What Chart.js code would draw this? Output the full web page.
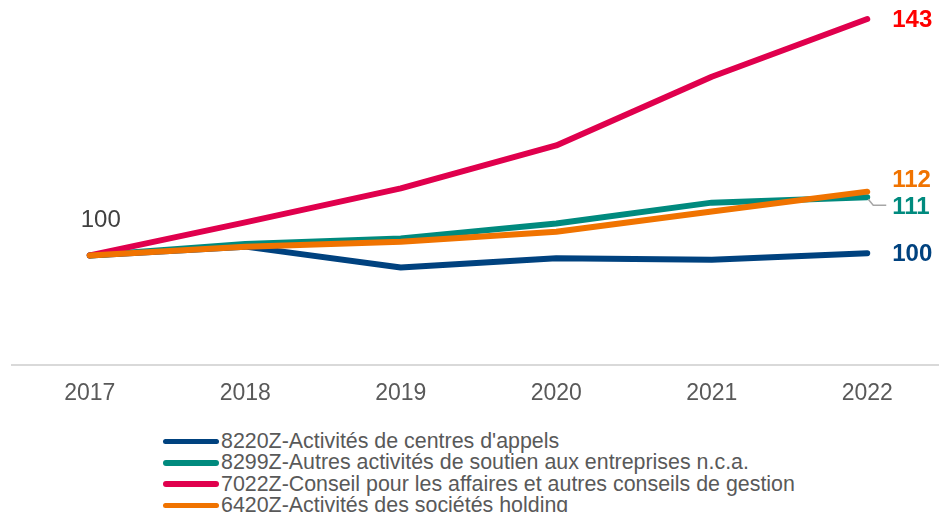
<!DOCTYPE html>
<html>
<head>
<meta charset="utf-8">
<script src="https://cdn.jsdelivr.net/npm/chart.js@4/dist/chart.umd.min.js"></script>
<style>
  html, body { margin: 0; padding: 0; background: #fff; overflow: hidden; width: 939px; height: 512px; }
  #wrap { position: relative; width: 945px; height: 422px; }
  #legend { position: absolute; left: 163px; top: 431px; font-family: 'Liberation Sans', Arial, sans-serif; font-size: 21.4px; color: #595959; }
  #legend div { height: 21.3px; line-height: 21.3px; white-space: nowrap; display: flex; align-items: center; }
  #legend span.sw { display: inline-block; width: 56px; height: 5.5px; border-radius: 3px; margin-right: 2px; }
</style>
</head>
<body>
<div id="wrap"><canvas id="chart" width="945" height="422"></canvas></div>
<div id="legend"></div>
<script>
// categories and series (index 2017 = 100)
const years = ['2017', '2018', '2019', '2020', '2021', '2022'];
const names = [
  "8220Z-Activités de centres d'appels",
  '8299Z-Autres activités de soutien aux entreprises n.c.a.',
  '7022Z-Conseil pour les affaires et autres conseils de gestion',
  '6420Z-Activités des sociétés holding'
];
const centresAppels = [100, 101.6, 97.8, 99.5, 99.2, 100.4];
const soutienEntreprises = [100, 102.1, 103.1, 105.8, 109.6, 110.6];
const conseilAffaires = [100, 106.0, 112.2, 120.0, 132.5, 143.0];
const holding = [100, 101.6, 102.5, 104.3, 108.0, 111.6];
const endLabels = ['100', '111', '143', '112'];
const startLabel = '100';

const lineColors = ['#00427F', '#008A7E', '#E0004D', '#F07300'];
const labelColors = ['#00427F', '#008A7E', '#FF0000', '#F07300'];
const labelOffsets = [1, 10, 1, -11]; // vertical nudge of end labels, px

const labelPlugin = {
  id: 'endLabels',
  afterDatasetsDraw(chart) {
    const ctx = chart.ctx;
    const x = chart.scales.x;
    const y = chart.scales.y;
    const last = years.length - 1;
    ctx.save();
    ctx.textBaseline = 'middle';
    // first point label
    ctx.font = '24px "Liberation Sans", Arial, sans-serif';
    ctx.fillStyle = '#404040';
    ctx.textAlign = 'center';
    ctx.fillText(startLabel, x.getPixelForValue(0) + 11, y.getPixelForValue(centresAppels[0]) - 35);
    // end labels
    ctx.font = 'bold 24px "Liberation Sans", Arial, sans-serif';
    ctx.textAlign = 'left';
    chart.data.datasets.forEach((ds, i) => {
      const px = x.getPixelForValue(last);
      const py = y.getPixelForValue(ds.data[last]);
      ctx.fillStyle = labelColors[i];
      ctx.fillText(endLabels[i], px + 25, py + labelOffsets[i]);
      if (i === 1) {
        // leader line
        ctx.strokeStyle = '#A6A6A6';
        ctx.lineWidth = 1.5;
        ctx.beginPath();
        ctx.moveTo(px + 1, py + 2);
        ctx.lineTo(px + 6, py + 8);
        ctx.lineTo(px + 19, py + 8);
        ctx.stroke();
      }
    });
    ctx.restore();
  }
};

const series = [centresAppels, soutienEntreprises, conseilAffaires, holding];
const drawOrder = [4, 3, 2, 1];

const chart = new Chart(document.getElementById('chart'), {
  type: 'line',
  data: {
    labels: years,
    datasets: series.map((d, i) => ({
      label: names[i],
      data: d,
      borderColor: lineColors[i],
      backgroundColor: lineColors[i],
      borderWidth: 6,
      borderCapStyle: 'round',
      borderJoinStyle: 'round',
      pointRadius: 0,
      tension: 0,
      order: drawOrder[i]
    }))
  },
  options: {
    responsive: false,
    animation: false,
    layout: { padding: { left: 12, right: 0, top: 8, bottom: 1 } },
    plugins: {
      legend: { display: false },
      tooltip: { enabled: false }
    },
    scales: {
      x: {
        offset: true,
        grid: { display: false, drawTicks: false },
        border: { display: true, color: '#D9D9D9', width: 2 },
        ticks: {
          color: '#595959',
          padding: 14,
          font: { family: '"Liberation Sans", Arial, sans-serif', size: 23 }
        }
      },
      y: {
        display: false,
        min: 80,
        max: 145
      }
    }
  },
  plugins: [labelPlugin]
});

// HTML legend in a single column, built from the datasets
const legendEl = document.getElementById('legend');
chart.data.datasets.forEach(ds => {
  const row = document.createElement('div');
  const sw = document.createElement('span');
  sw.className = 'sw';
  sw.style.background = ds.borderColor;
  row.appendChild(sw);
  row.appendChild(document.createTextNode(ds.label));
  legendEl.appendChild(row);
});
</script>
</body>
</html>
